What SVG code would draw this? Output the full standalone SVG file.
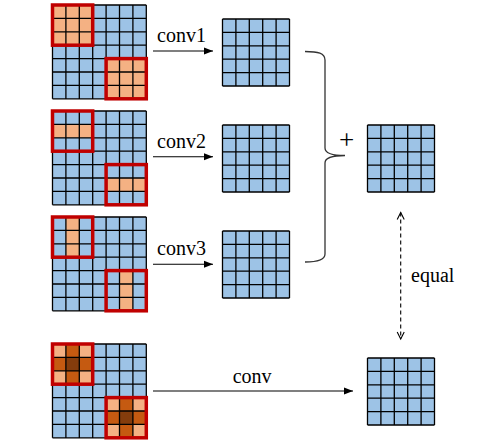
<svg xmlns="http://www.w3.org/2000/svg" xmlns:xlink="http://www.w3.org/1999/xlink" width="499" height="443" viewBox="0 0 499 443">
<style>
.bg{fill:#9DC3E6}
.o1{fill:#F4B183}
.o2{fill:#C55A11}
.o3{fill:#843C0C}
.gl{fill:none;stroke:#000;stroke-width:1.3}
.rb{fill:none;stroke:#C00000;stroke-width:3.5}
.lbl{font-family:"Liberation Serif","Times New Roman",serif;font-size:20px;fill:#000}
.plus{font-family:"Liberation Serif","Times New Roman",serif;font-size:27px;fill:#000}
.arr{fill:none;stroke:#000;stroke-width:1.1}
.dash{fill:none;stroke:#000;stroke-width:1.1;stroke-dasharray:4,3}
</style>
<defs>
<g id="g7">
<path class="gl" d="M0,0H93.8M0,13.4H93.8M0,26.8H93.8M0,40.2H93.8M0,53.6H93.8M0,67H93.8M0,80.4H93.8M0,93.8H93.8M0,0V93.8M13.4,0V93.8M26.8,0V93.8M40.2,0V93.8M53.6,0V93.8M67,0V93.8M80.4,0V93.8M93.8,0V93.8"/>
</g>
<g id="g5">
<rect class="bg" x="0" y="0" width="67" height="67"/>
<path class="gl" d="M0,0H67M0,13.4H67M0,26.8H67M0,40.2H67M0,53.6H67M0,67H67M0,0V67M13.4,0V67M26.8,0V67M40.2,0V67M53.6,0V67M67,0V67"/>
</g>
<g id="rboxes">
<rect class="rb" x="0" y="0" width="40.2" height="40.2"/>
<rect class="rb" x="53.6" y="53.6" width="40.2" height="40.2"/>
</g>
<marker id="ah" markerWidth="10" markerHeight="8" refX="9" refY="4" orient="auto" markerUnits="userSpaceOnUse">
<path d="M0,0.5L9,4L0,7.5Z" fill="#000"/>
</marker>
<marker id="oh" markerWidth="10" markerHeight="10" refX="8" refY="5" orient="auto-start-reverse" markerUnits="userSpaceOnUse">
<path d="M1,1.5L8,5L1,8.5" fill="none" stroke="#000" stroke-width="1.1"/>
</marker>
</defs>

<g id="input1" transform="translate(52.5,5)">
<rect class="bg" x="0" y="0" width="93.8" height="93.8"/>
<rect class="o1" x="0" y="0" width="40.2" height="40.2"/>
<rect class="o1" x="53.6" y="53.6" width="40.2" height="40.2"/>
<use xlink:href="#g7"/>
<use xlink:href="#rboxes"/>
</g>

<g id="input2" transform="translate(52.5,111)">
<rect class="bg" x="0" y="0" width="93.8" height="93.8"/>
<rect class="o1" x="0" y="13.4" width="40.2" height="13.4"/>
<rect class="o1" x="53.6" y="67" width="40.2" height="13.4"/>
<use xlink:href="#g7"/>
<use xlink:href="#rboxes"/>
</g>

<g id="input3" transform="translate(52.5,217)">
<rect class="bg" x="0" y="0" width="93.8" height="93.8"/>
<rect class="o1" x="13.4" y="0" width="13.4" height="40.2"/>
<rect class="o1" x="67" y="53.6" width="13.4" height="40.2"/>
<use xlink:href="#g7"/>
<use xlink:href="#rboxes"/>
</g>

<g id="input4" transform="translate(52.5,344)">
<rect class="bg" x="0" y="0" width="93.8" height="93.8"/>
<rect class="o1" x="0" y="0" width="40.2" height="40.2"/>
<rect class="o2" x="13.4" y="0" width="13.4" height="40.2"/>
<rect class="o2" x="0" y="13.4" width="40.2" height="13.4"/>
<rect class="o3" x="13.4" y="13.4" width="13.4" height="13.4"/>
<rect class="o1" x="53.6" y="53.6" width="40.2" height="40.2"/>
<rect class="o2" x="67" y="53.6" width="13.4" height="40.2"/>
<rect class="o2" x="53.6" y="67" width="40.2" height="13.4"/>
<rect class="o3" x="67" y="67" width="13.4" height="13.4"/>
<use xlink:href="#g7"/>
<use xlink:href="#rboxes"/>
</g>

<g id="out1" transform="translate(222.5,19)"><use xlink:href="#g5"/></g>
<g id="out2" transform="translate(222.5,125)"><use xlink:href="#g5"/></g>
<g id="out3" transform="translate(222.5,231)"><use xlink:href="#g5"/></g>
<g id="sum" transform="translate(367.5,125)"><use xlink:href="#g5"/></g>
<g id="result" transform="translate(367.5,358)"><use xlink:href="#g5"/></g>

<g id="connectors">
<line class="arr" x1="153" y1="51" x2="213" y2="51" marker-end="url(#ah)"/>
<line class="arr" x1="153" y1="156.7" x2="213" y2="156.7" marker-end="url(#ah)"/>
<line class="arr" x1="153" y1="264.3" x2="213" y2="264.3" marker-end="url(#ah)"/>
<line class="arr" x1="153" y1="391" x2="353" y2="391" marker-end="url(#ah)"/>
<path fill="none" stroke="#333" stroke-width="1.3" d="M305,51.5C318,51.5 325,53 325,60L325,148C325,153 333,155.5 345,155.5C333,155.5 325,158 325,163L325,254C325,260 318,262 305,262"/>
<line class="dash" x1="400.7" y1="212.5" x2="400.7" y2="339" marker-start="url(#oh)" marker-end="url(#oh)"/>
</g>

<g id="labels">
<text class="lbl" x="157" y="41.5">conv1</text>
<text class="lbl" x="157" y="148.3">conv2</text>
<text class="lbl" x="157" y="255">conv3</text>
<text class="lbl" x="232.7" y="383.3">conv</text>
<text class="plus" x="346.5" y="149" text-anchor="middle">+</text>
<text class="lbl" x="411" y="281.7">equal</text>
</g>
</svg>
